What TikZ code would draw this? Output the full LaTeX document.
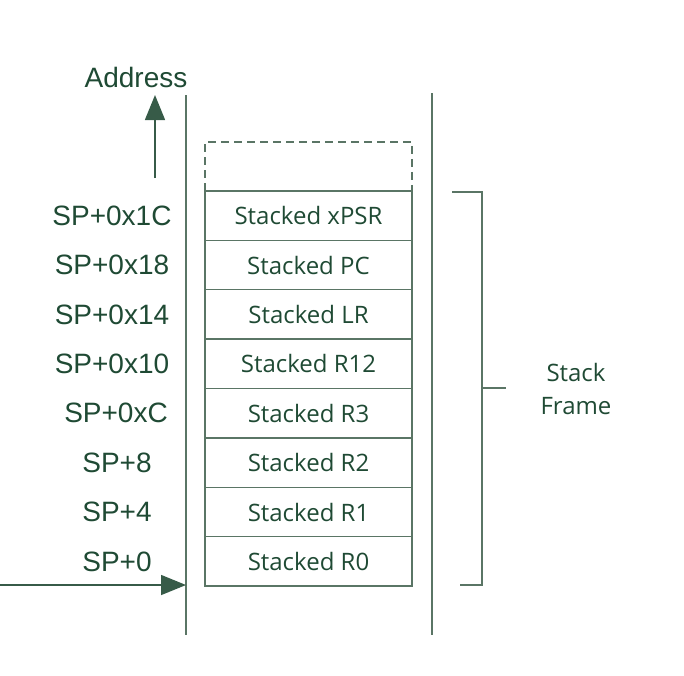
\documentclass[tikz,border=0pt]{standalone}
\usepackage{fontspec}
\setmainfont{Liberation Sans}
\newfontfamily\boxfont{Open Sans}
\usetikzlibrary{arrows.meta}
\definecolor{txtgreen}{HTML}{1F4A34}
\definecolor{linegreen}{HTML}{5A7565}
\tikzset{
  cell/.style={draw=linegreen, minimum width=103.5pt, minimum height=24.7pt,
    inner sep=0pt, outer sep=0pt, text=txtgreen,
    font=\boxfont\fontsize{12}{14}\selectfont},
  addr/.style={text=txtgreen, inner sep=0pt, font=\fontsize{14}{16}\selectfont},
}
\begin{document}
\begin{tikzpicture}[x=0.5pt, y=-0.5pt, line width=0.75pt, draw=linegreen,
  >={Triangle[length=12.5pt,width=10pt]}]
\useasboundingbox (0,0) rectangle (684,675);

% stack frame
\foreach \i/\t in {0/xPSR,1/PC,2/LR,3/R12,4/R3,5/R2,6/R1,7/R0}
  \node[cell] (r\i) at (308.5,215.6+49.4*\i) {Stacked \t};
\draw[dashed, dash pattern=on 4pt off 2.5pt] (r0.north west) -- ++(0,-49) -| (r0.north east);

% offsets
\foreach \i/\t/\x in {0/0x1C/112,1/0x18/112,2/0x14/112,3/0x10/112,4/0xC/116,5/8/117,6/4/117,7/0/117}
  \node[addr] (o\i) at (r\i.center -| \x,0) {SP+\t};

% memory lines
\coordinate (lt) at (186,95);
\coordinate (lb) at (186,635);
\coordinate (rt) at (432,93);
\coordinate (rb) at (432,635);
\draw (lt) -- (lb);
\draw (rt) -- (rb);

% address direction
\node[addr] (adr) at (136,77) {Address};
\coordinate (up) at (155,178);
\draw[->, txtgreen!60!linegreen] (up) -- (155,95);

% SP
\coordinate (sp) at (0,585);
\draw[->, txtgreen!60!linegreen] (sp) -- (sp -| lb);

% bracket
\draw (452,192) -| (482,585) -- (460,585);
\draw (482,388) coordinate (bm) -- (506,388);
\node[text=txtgreen, align=center, font=\boxfont\fontsize{12}{16.5}\selectfont]
  (sf) at (576,389) {Stack\\Frame};
\end{tikzpicture}
\end{document}
